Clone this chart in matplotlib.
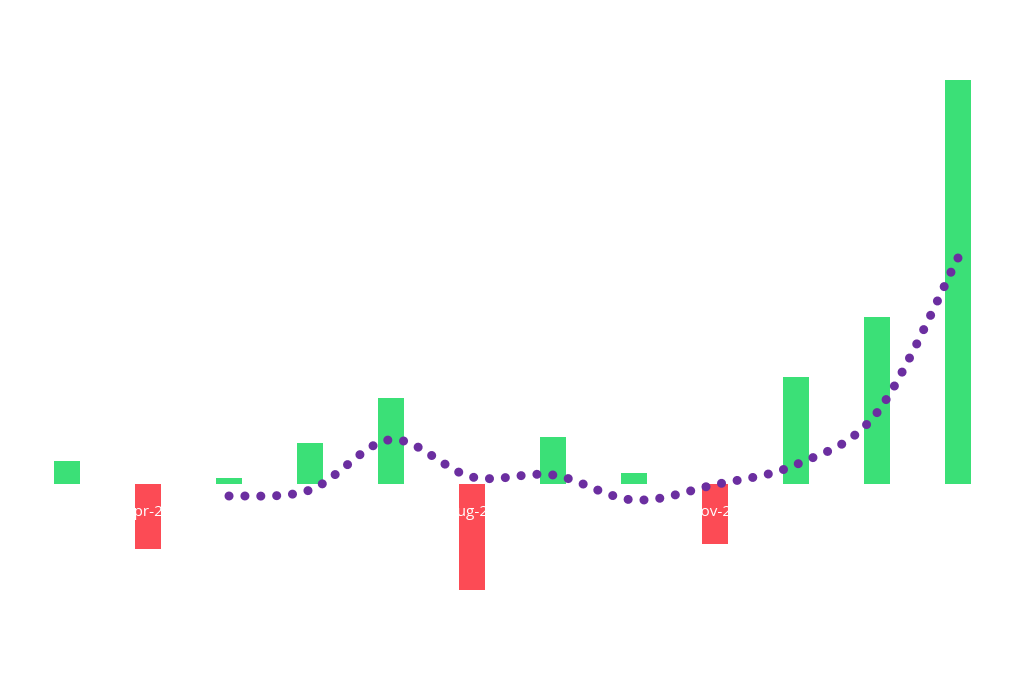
import numpy as np
import pandas as pd
import matplotlib
matplotlib.use("Agg")
import matplotlib.pyplot as plt
from matplotlib.path import Path
from matplotlib.patches import PathPatch

# monthly values
months = ["Mar-23", "Apr-23", "May-23", "Jun-23", "Jul-23", "Aug-23",
          "Sep-23", "Oct-23", "Nov-23", "Dec-23", "Jan-24", "Feb-24"]
values = [2.3, -6.5, 0.6, 4.1, 8.6, -10.6, 4.7, 1.1, -6.0, 10.7, 16.7, 40.4]

GREEN = "#3be077"
RED = "#fc4b55"
PURPLE = "#6b2ea0"


def smooth_path(xs, ys):
    # Catmull-Rom through the points, written as cubic Bezier segments
    verts = [(xs[0], ys[0])]
    codes = [Path.MOVETO]
    n = len(xs)
    for i in range(n - 1):
        x0, y0 = (xs[i - 1], ys[i - 1]) if i > 0 else (xs[i], ys[i])
        x1, y1 = xs[i], ys[i]
        x2, y2 = xs[i + 1], ys[i + 1]
        x3, y3 = (xs[i + 2], ys[i + 2]) if i + 2 < n else (x2, y2)
        c1 = (x1 + (x2 - x0) / 6, y1 + (y2 - y0) / 6)
        c2 = (x2 - (x3 - x1) / 6, y2 - (y3 - y1) / 6)
        verts += [c1, c2, (x2, y2)]
        codes += [Path.CURVE4] * 3
    return Path(verts, codes)


df = pd.DataFrame({"month": months, "value": values})
df["trend"] = df["value"].rolling(3).mean()

fig = plt.figure(figsize=(10.24, 6.83), dpi=100)
ax = fig.add_axes([0, 0, 1, 1])
ax.set_xlim(-0.827, 11.815)
ax.set_ylim(-19.9, 48.4)
ax.axis("off")

x = np.arange(len(df))
colors = [GREEN if v >= 0 else RED for v in df["value"]]
ax.bar(x, df["value"], width=0.31, color=colors, zorder=1)

for xi, lab in zip(x, df["month"]):
    ax.text(xi, -2.9, lab, color="white", ha="center", va="center",
            fontsize=11, family="Open Sans", zorder=2)

tr = df.dropna(subset=["trend"])
path = smooth_path(tr.index.to_numpy(dtype=float), tr["trend"].to_numpy())
line = PathPatch(path, fill=False, edgecolor=PURPLE, linewidth=6.5,
                 linestyle=(0, (0.01, 1.75)), capstyle="round", zorder=3)
ax.add_patch(line)

fig.savefig("out.png", dpi=100, facecolor="white")
